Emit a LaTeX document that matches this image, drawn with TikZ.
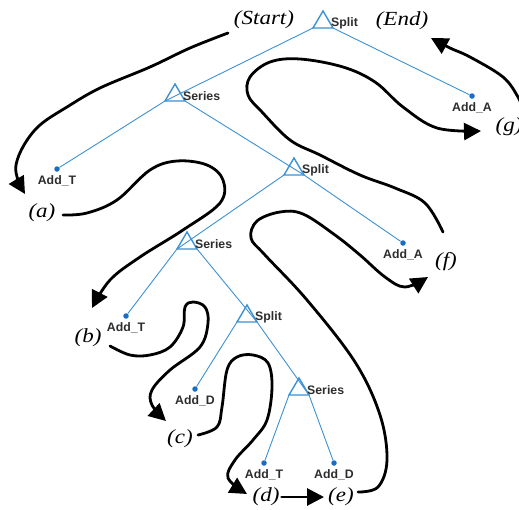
\documentclass[tikz,border=0pt]{standalone}
\usepackage{fontspec}
\setmainfont{Liberation Serif}
\newfontfamily\labfont{Liberation Sans}
\newfontfamily\itfont{Liberation Serif}[FakeStretch=1.15]
\usetikzlibrary{arrows.meta}
\definecolor{treeblue}{RGB}{60,145,210}
\definecolor{dotblue}{RGB}{25,110,195}
\definecolor{labgray}{RGB}{45,45,45}
\newcommand\mytri[4]{%
  \coordinate (#1) at (#2,#3);
  \path (#1) ++(-10,0) coordinate (#1-l);
  \path (#1) ++(10,0) coordinate (#1-r);
  \path (#1) ++(0,-17) coordinate (#1-a);
  \draw[tri] (#1-l) -- (#1-a) -- (#1-r) -- cycle;
  \node[lab, anchor=west] (#1-t) at ($(#1)+(8,-5)$) {#4};
}
\newcommand\myleaf[4]{%
  \node[leafdot] (#1) at (#2,#3) {};
  \node[lab] (#1-t) at ($(#1)+(0,11.5)$) {#4};
}
\usetikzlibrary{calc}
\begin{document}
\begin{tikzpicture}[x=1pt,y=-1pt,
  edge/.style={draw=treeblue, line width=0.9pt},
  tri/.style={draw=treeblue, line width=1.4pt, line join=miter},
  leafdot/.style={circle, fill=dotblue, inner sep=0pt, minimum size=5.5pt},
  lab/.style={font=\labfont\bfseries\fontsize{12.3}{14}\selectfont, text=labgray, inner sep=0pt},
  seq/.style={font=\itfont\itshape\fontsize{20}{22}\selectfont, inner sep=1pt},
  flow/.style={line width=2.8pt, -{Triangle[length=17pt,width=17pt]}, line join=round, line cap=round}]
\useasboundingbox (0,0) rectangle (519,509);

\myleaf{AA1}{472}{96}{Add\_A}
\myleaf{AT1}{57}{169}{Add\_T}
\myleaf{AA2}{403}{243}{Add\_A}
\myleaf{AT2}{126}{316}{Add\_T}
\myleaf{AD1}{195}{389}{Add\_D}
\myleaf{AT3}{264}{463}{Add\_T}
\myleaf{AD2}{334}{463}{Add\_D}

\mytri{S1}{323}{28}{Split}
\mytri{Se1}{175}{101}{Series}
\mytri{Sp2}{294}{175}{Split}
\mytri{Se2}{187}{249}{Series}
\mytri{Sp3}{247}{322}{Split}
\mytri{Se3}{299}{395}{Series}

\draw[edge] (S1-l) -- (Se1-l);
\draw[edge] (S1-r) -- (AA1);
\draw[edge] (Se1-l) -- (AT1);
\draw[edge] (Se1-r) -- (Sp2-r);
\draw[edge] (Sp2-l) -- (Se2-l);
\draw[edge] (Sp2-r) -- (AA2);
\draw[edge] (Se2-l) -- (AT2);
\draw[edge] (Se2-r) -- (Sp3-r);
\draw[edge] (Sp3-l) -- (AD1);
\draw[edge] (Sp3-r) -- (Se3-r);
\draw[edge] (Se3-l) -- (AT3);
\draw[edge] (Se3-r) -- (AD2);

% step labels
\node[seq] (start) at (264,20) {(Start)};
\node[seq] (end) at (402,21) {(End)};
\node[seq] (a) at (42,213) {(a)};
\node[seq] (b) at (88,338) {(b)};
\node[seq] (c) at (180,439) {(c)};
\node[seq] (d) at (266,497) {(d)};
\node[seq] (e) at (341,497) {(e)};
\node[seq] (f) at (446,262) {(f)};
\node[seq] (g) at (509,127) {(g)};

% flow arrows
\draw[flow] plot[smooth, tension=0.6] coordinates {(228,33) (190,48) (150,67) (100,88) (67,107) (40,125) (24,145) (16,165) (18,180) (25,194)};
\draw[flow] plot[smooth, tension=0.6] coordinates {(63,215) (87,213) (117,200) (150,170) (177,161) (207,165) (223,180) (220,203) (183,230) (140,257) (110,280) (92,308)};
\draw[flow] plot[smooth, tension=0.6] coordinates {(110,346) (130,355) (150,355) (170,347) (183,327) (185,307) (193,302) (205,307) (208,323) (200,347) (170,370) (152,390) (152,405) (166,421)};
\draw[flow] plot[smooth, tension=0.6] coordinates {(198,435) (217,427) (222,407) (227,370) (237,357) (253,355) (268,363) (272,387) (267,420) (253,440) (235,460) (228,478) (247,494)};
\draw[flow] ([xshift=1pt]d.east) -- ([xshift=-3pt]e.west);
\draw[flow] plot[smooth, tension=0.6] coordinates {(358,492) (378,487) (387,460) (380,415) (355,362) (307,300) (265,255) (251,238) (257,221) (280,212) (303,214) (335,235) (360,255) (385,277) (405,287) (428,277)};
\draw[flow] plot[smooth, tension=0.6] coordinates {(443,232) (425,203) (395,188) (360,175) (320,155) (290,140) (262,112) (248,95) (250,77) (270,62) (300,59) (343,67) (375,82) (403,107) (437,128) (481,131)};
\draw[flow] plot[smooth, tension=0.6] coordinates {(522,108) (518,97) (503,77) (470,57) (450,48) (431,38)};
\end{tikzpicture}
\end{document}
